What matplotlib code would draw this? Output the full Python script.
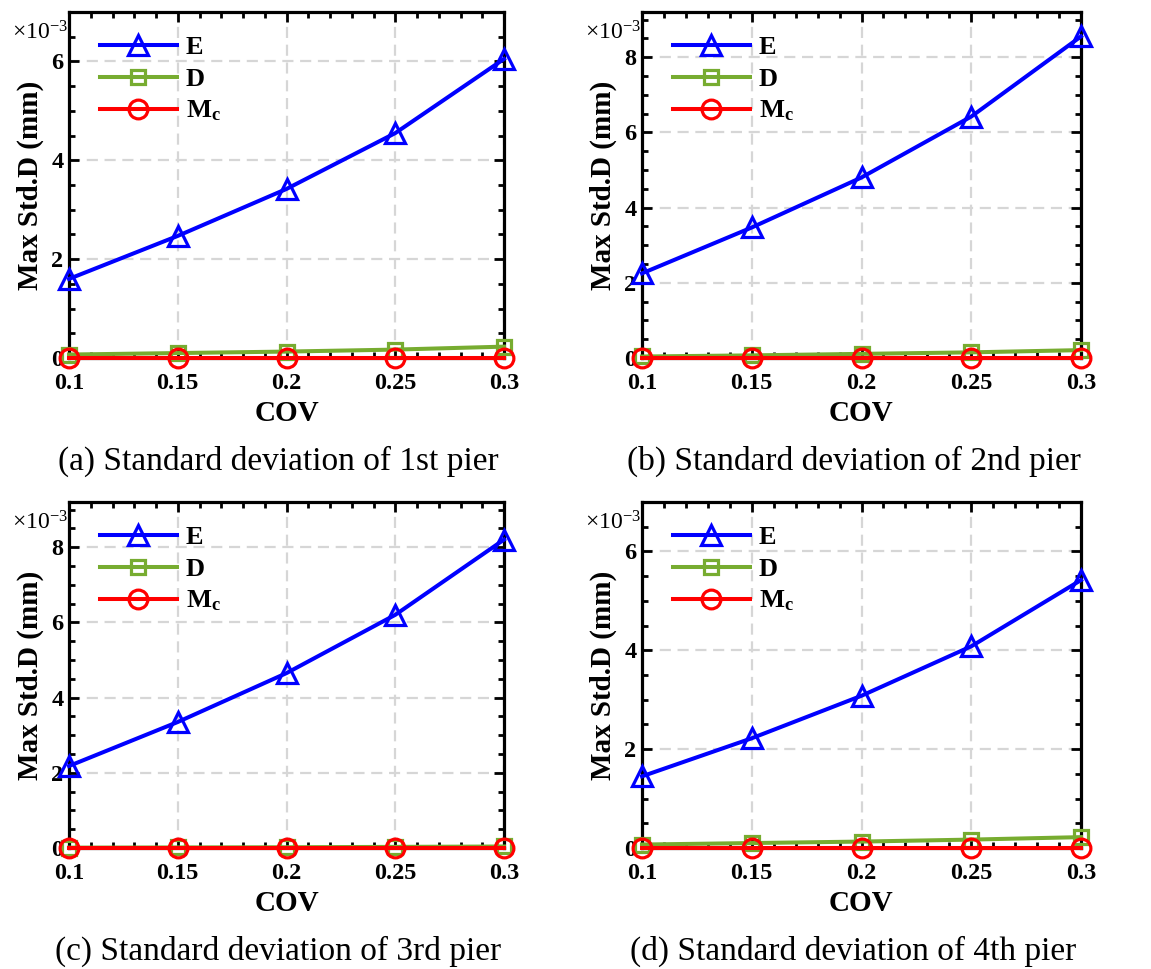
import matplotlib
matplotlib.use("Agg")
import matplotlib.pyplot as plt
from matplotlib.ticker import MultipleLocator, FixedLocator

plt.rcParams['font.family'] = ['Liberation Serif', 'DejaVu Serif']
plt.rcParams['mathtext.fontset'] = 'custom'
plt.rcParams['mathtext.rm'] = 'Liberation Serif'
plt.rcParams['mathtext.bf'] = 'Liberation Serif:bold'
plt.rcParams['mathtext.it'] = 'Liberation Serif:italic'

# ---- data (values in units of 1e-3 mm) ----
cov = [0.1, 0.15, 0.2, 0.25, 0.3]
cov_labels = ['0.1', '0.15', '0.2', '0.25', '0.3']
series_labels = ['E', 'D', r'$\mathbf{M_c}$']
captions = ['(a) Standard deviation of 1st pier', '(b) Standard deviation of 2nd pier',
            '(c) Standard deviation of 3rd pier', '(d) Standard deviation of 4th pier']

E_a = [1.60, 2.47, 3.42, 4.55, 6.05]
D_a = [0.07, 0.10, 0.13, 0.17, 0.23]
M_a = [0.01, 0.01, 0.01, 0.01, 0.01]

E_b = [2.25, 3.47, 4.80, 6.42, 8.55]
D_b = [0.04, 0.07, 0.11, 0.15, 0.21]
M_b = [0.01, 0.01, 0.01, 0.01, 0.01]

E_c = [2.18, 3.35, 4.65, 6.20, 8.20]
D_c = [0.01, 0.015, 0.02, 0.03, 0.04]
M_c = [0.005, 0.005, 0.005, 0.005, 0.005]

E_d = [1.45, 2.22, 3.08, 4.08, 5.42]
D_d = [0.07, 0.10, 0.13, 0.17, 0.22]
M_d = [0.01, 0.01, 0.01, 0.01, 0.01]

ylims = [7, 9.2, 9.2, 7]
panels = [(E_a, D_a, M_a), (E_b, D_b, M_b), (E_c, D_c, M_c), (E_d, D_d, M_d)]

colors = ['#0000FF', '#77AC30', '#FF0000']
markers = ['^', 's', 'o']
msizes = [15, 9.5, 13.5]

W, H = 1151, 969
fig = plt.figure(figsize=(W / 100, H / 100), dpi=100)

# axes boxes in pixels: left, right, top, bottom
boxes = [(69, 504, 12, 358), (642, 1081, 12, 358),
         (69, 504, 502, 848), (642, 1081, 502, 848)]

for i, (box, data, ytop, cap) in enumerate(zip(boxes, panels, ylims, captions)):
    l, r, t, b = box
    ax = fig.add_axes([l / W, 1 - b / H, (r - l) / W, (b - t) / H])
    for vals, lab, c, m, ms in zip(data, series_labels, colors, markers, msizes):
        ax.plot(cov, vals, color=c, marker=m, markersize=ms, markerfacecolor='none',
                markeredgecolor=c, markeredgewidth=2.3, linewidth=2.9, label=lab,
                clip_on=False, zorder=3)
    ax.set_xlim(0.1, 0.3)
    ax.set_ylim(0, ytop)
    ax.xaxis.set_major_locator(FixedLocator(cov))
    ax.xaxis.set_minor_locator(MultipleLocator(0.01))
    ax.yaxis.set_major_locator(MultipleLocator(2))
    ax.yaxis.set_minor_locator(MultipleLocator(0.5))
    ax.set_xticklabels(cov_labels)
    ax.tick_params(which='both', direction='in', top=True, right=True, width=2,
                   labelsize=17.5)
    ax.tick_params(which='major', length=7)
    ax.tick_params(axis='x', which='major', pad=11)
    ax.tick_params(axis='y', which='major', pad=4)
    ax.tick_params(which='minor', length=4)
    for lbl in ax.get_xticklabels() + ax.get_yticklabels():
        lbl.set_fontweight('bold')
    for sp in ax.spines.values():
        sp.set_linewidth(2.3)
    ax.grid(True, which='major', color='#d6d6d6', linestyle=(0, (5, 3)), linewidth=1.6,
            zorder=0)
    ax.set_axisbelow(True)
    ax.set_ylabel('Max Std.D (mm)', fontsize=21, fontweight='bold', labelpad=5)
    ax.set_xlabel('COV', fontsize=21, fontweight='bold', labelpad=4)
    fig.text((l - 57) / W, 1 - (t + 9) / H, r'$\times\mathregular{10^{-3}}$',
             fontsize=17, ha='left', va='top')
    ax.legend(loc='upper left', bbox_to_anchor=(31 / (r - l), 1 - 24 / (b - t)),
              frameon=False, prop={'weight': 'bold', 'size': 19}, handlelength=2.9,
              labelspacing=0.3, handletextpad=0.35, borderpad=0, borderaxespad=0)
    cx = ((l + r) / 2 - 8) / W
    fig.text(cx, 1 - (b + 103) / H, cap, fontsize=24, ha='center', va='center')

fig.savefig('out.png', dpi=100)
